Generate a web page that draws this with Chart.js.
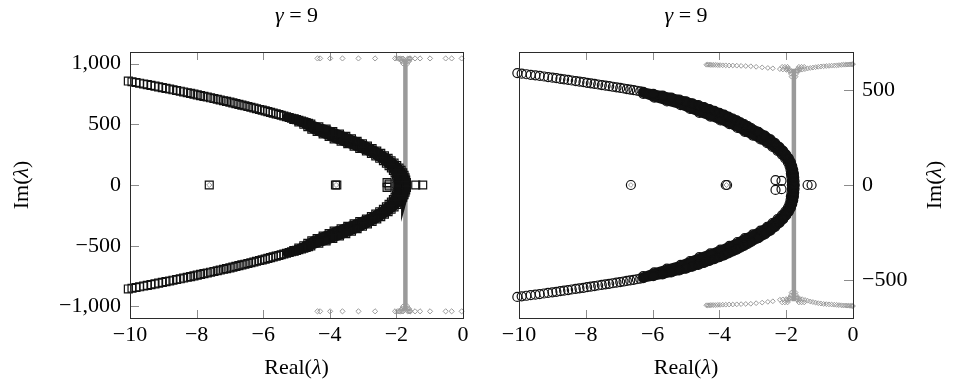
<!DOCTYPE html>
<html>
<head>
<meta charset="utf-8">
<script src="https://cdn.jsdelivr.net/npm/chart.js@4.4.1/dist/chart.umd.min.js"></script>
<style>
  body { margin: 0; background: #fff; }
  #wrap { position: relative; width: 954px; height: 388px; }
  canvas { position: absolute; top: 0; }
</style>
</head>
<body>
<div id="wrap">
  <canvas id="left" width="477" height="388" style="left:0"></canvas>
  <canvas id="right" width="477" height="388" style="left:477px"></canvas>
</div>
<script>
// tick values
var xTicks = [-10, -8, -6, -4, -2, 0];
var leftYTicks = [-1000, -500, 0, 500, 1000];
var rightYTicks = [-500, 0, 500];

// left panel: main branch (squares)
var leftUpperIm = [0,20,40,60,80,100,120,140,160,180,200,220,240,260,280,300,320,340,360,380,400,420,440,460,480,
  502,508,514,520,526,532,538,544,550,556,562,568,574,580,586,592,598,604,610,616,622,628,634,640,646,652,658,664,670,676,
  682,688,694,700,706,712,718,724,730,736,742,748,754,760,766,772,778,784,790,796,802,808,814,820,826,832,838,844,850,856];
var leftLowerIm = [0,-20,-40,-60,-80,-100,-120,-140,-160,-180,-200,-220,-240,-260,-280,-300,-320,-340,-360,-380,-400,-420,-440,-460,-480,
  -502,-508,-514,-520,-526,-532,-538,-544,-550,-556,-562,-568,-574,-580,-586,-592,-598,-604,-610,-616,-622,-628,-634,-640,-646,-652,-658,-664,-670,-676,
  -682,-688,-694,-700,-706,-712,-718,-724,-730,-736,-742,-748,-754,-760,-766,-772,-778,-784,-790,-796,-802,-808,-814,-820,-826,-832,-838,-844,-850,-856];
var leftRe = [-1.70,-1.70,-1.72,-1.74,-1.77,-1.81,-1.86,-1.92,-1.99,-2.07,-2.16,-2.25,-2.36,-2.47,-2.59,-2.73,-2.87,-3.02,-3.18,-3.35,-3.52,-3.71,-3.91,-4.11,-4.33,
  -4.57,-4.64,-4.71,-4.78,-4.85,-4.93,-5.00,-5.07,-5.15,-5.22,-5.30,-5.38,-5.46,-5.53,-5.61,-5.70,-5.78,-5.86,-5.94,-6.03,-6.11,-6.20,-6.28,-6.37,-6.46,-6.55,-6.64,-6.73,-6.82,-6.91,
  -7.00,-7.10,-7.19,-7.29,-7.38,-7.48,-7.58,-7.68,-7.78,-7.88,-7.98,-8.08,-8.18,-8.28,-8.39,-8.49,-8.60,-8.71,-8.81,-8.92,-9.03,-9.14,-9.25,-9.37,-9.48,-9.59,-9.71,-9.82,-9.94,-10.05];
// left panel: inner branch, merging into the main one near Re = -5
var leftInnerUpperIm = [0,20,40,60,80,100,120,140,160,180,200,220,240,260,280,300,320,340,360,380,400,420,440,460,480,500,520,540];
var leftInnerLowerIm = [0,-20,-40,-60,-80,-100,-120,-140,-160,-180,-200,-220,-240,-260,-280,-300,-320,-340,-360,-380,-400,-420,-440,-460,-480,-500,-520,-540];
var leftInnerRe = [-1.92,-1.92,-1.94,-1.96,-2.00,-2.04,-2.09,-2.15,-2.22,-2.30,-2.39,-2.50,-2.62,-2.75,-2.90,-3.10,-3.27,-3.46,-3.66,-3.87,-4.02,-4.20,-4.38,-4.54,-4.66,-4.78,-4.93,-5.08];
// left panel: isolated eigenvalues near the real axis
var leftIsoRe = [-7.62, -3.83, -3.79, -2.28, -2.28, -2.22, -2.22, -1.42, -1.21];
var leftIsoIm = [0, 0, 0, 20, -20, 8, -8, 0, 0];

// left panel: gray set
var leftBandRe = [-1.73, -1.73];
var leftBandIm = [-1035, 1035];
var leftRowRe = [-4.37,-4.29,-3.99,-3.62,-3.14,-2.64,-2.04,-1.97,-1.59,-1.44,-1.29,-0.99,-0.52,-0.34,-0.04];
var leftRowTopIm = [1042,1042,1042,1042,1042,1042,1042,1042,1042,1042,1042,1042,1042,1042,1042];
var leftRowBotIm = [-1040,-1040,-1040,-1040,-1040,-1040,-1040,-1040,-1040,-1040,-1040,-1040,-1040,-1040,-1040];
var leftFlareRe = [-1.92,-1.88,-1.84,-1.80,-1.66,-1.62,-1.58,-1.84,-1.80,-1.66,-1.62,-1.80,-1.67];
var leftFlareTopIm = [1040,1040,1040,1040,1040,1040,1040,1020,1020,1020,1020,1000,1000];
var leftFlareBotIm = [-1040,-1040,-1040,-1040,-1040,-1040,-1040,-1020,-1020,-1020,-1020,-1000,-1000];
var leftGrayIsoRe = [-7.62, -3.81];
var leftGrayIsoIm = [0, 0];

// right panel: main branch (circles)
var rightUpperIm = [0,20,40,60,80,100,120,140,160,180,200,220,240,260,280,300,
  310,320,330,340,350,360,370,380,390,400,410,420,430,440,450,460,470,480,490,
  493,496,499,502,505,508,511,514,517,520,523,526,529,532,535,538,541,544,547,550,553,556,559,562,565,568,571,574,577,580,583,586,589];
var rightLowerIm = [0,-20,-40,-60,-80,-100,-120,-140,-160,-180,-200,-220,-240,-260,-280,-300,
  -310,-320,-330,-340,-350,-360,-370,-380,-390,-400,-410,-420,-430,-440,-450,-460,-470,-480,-490,
  -493,-496,-499,-502,-505,-508,-511,-514,-517,-520,-523,-526,-529,-532,-535,-538,-541,-544,-547,-550,-553,-556,-559,-562,-565,-568,-571,-574,-577,-580,-583,-586,-589];
var rightRe = [-1.75,-1.75,-1.76,-1.77,-1.79,-1.82,-1.86,-1.92,-2.00,-2.09,-2.20,-2.33,-2.47,-2.64,-2.83,-3.05,
  -3.15,-3.26,-3.37,-3.48,-3.60,-3.73,-3.86,-4.00,-4.15,-4.30,-4.46,-4.63,-4.81,-5.00,-5.20,-5.44,-5.70,-5.98,-6.28,
  -6.37,-6.47,-6.57,-6.67,-6.77,-6.87,-6.97,-7.08,-7.19,-7.30,-7.41,-7.52,-7.63,-7.74,-7.85,-7.96,-8.07,-8.19,-8.30,-8.42,
  -8.53,-8.65,-8.76,-8.88,-9.00,-9.13,-9.25,-9.38,-9.51,-9.65,-9.78,-9.92,-10.05];
// right panel: inner branch, merging into the main one near Re = -6.3
var rightInnerUpperIm = [0,20,40,60,80,100,120,140,160,180,200,220,240,260,280,300,320,340,360,380,400,420,440,460,480];
var rightInnerLowerIm = [0,-20,-40,-60,-80,-100,-120,-140,-160,-180,-200,-220,-240,-260,-280,-300,-320,-340,-360,-380,-400,-420,-440,-460,-480];
var rightInnerRe = [-1.83,-1.83,-1.84,-1.86,-1.87,-1.90,-1.95,-2.03,-2.13,-2.26,-2.41,-2.57,-2.77,-3.00,-3.24,-3.46,-3.70,-3.97,-4.27,-4.60,-4.88,-5.16,-5.57,-5.95,-6.28];
var rightIsoRe = [-6.65, -3.81, -3.77, -2.32, -2.32, -2.14, -2.14, -1.36, -1.24];
var rightIsoIm = [0, 0, 0, 26, -26, 22, -22, 0, 0];

// right panel: gray set
var rightBandRe = [-1.77, -1.77];
var rightBandIm = [-612, 612];
var rightRowLeftRe = [-4.39,-4.35,-4.31,-4.27,-4.22,-4.17,-4.11,-4.05,-3.98,-3.90,-3.81,-3.71,-3.60,-3.48,-3.35,-3.21,-3.06,-2.90,-2.72,-2.55,-2.40];
var rightRowLeftTopIm = [633,633,633,632,632,632,632,631,631,630,630,629,629,628,627,626,625,622,619,616,614];
var rightRowLeftBotIm = [-633,-633,-633,-632,-632,-632,-632,-631,-631,-630,-630,-629,-629,-628,-627,-626,-625,-622,-619,-615,-612];
var rightRowRightRe = [-2.19,-2.10,-2.00,-1.92,-1.60,-1.52,-1.44,-1.36,-1.28,-1.20,-1.12,-1.04,-0.96,-0.88,-0.80,-0.72,-0.64,-0.56,
  -0.49,-0.42,-0.35,-0.29,-0.23,-0.18,-0.13,-0.09,-0.05,-0.02,0];
var rightRowRightTopIm = [610,608,606,604,604,607,610,613,616,618,620,622,624,625,626,627,628,629,630,631,632,633,633,634,634,635,635,636,636];
var rightRowRightBotIm = [-604,-602,-600,-598,-598,-601,-605,-609,-613,-616,-619,-622,-624,-626,-627,-628,-629,-630,-631,-632,-633,-634,-634,-635,-635,-636,-636,-637,-637];
var rightFlareRe = [-2.12,-2.04,-1.96,-1.62,-1.54,-1.46,-1.98,-1.92,-1.66,-1.60,-1.90,-1.86,-1.70,-1.66,-1.86,-1.70,-1.84,-1.72];
var rightFlareTopIm = [622,622,622,622,622,622,612,612,612,612,600,600,600,600,585,585,570,570];
var rightFlareBotIm = [-618,-618,-618,-618,-618,-618,-606,-606,-606,-606,-594,-594,-594,-594,-580,-580,-566,-566];
var rightGrayIsoRe = [-6.65, -3.79];
var rightGrayIsoIm = [0, 0];

var FONT = '"Liberation Serif", "DejaVu Serif", serif';
var FS = 22;
var BLACK = '#111';
var GRAY = '#9a9a9a';
var NONE = 'rgba(0,0,0,0)';

function pts(xs, ys) {
  return xs.map(function (x, i) { return { x: x, y: ys[i] }; });
}

// eigenvalue branch: hollow marks, plus a thick line where the marks pile up (Re >= cut)
function branch(data, style, r, cut, lw) {
  return { data: data, showLine: true, clip: false,
    borderWidth: lw, borderColor: BLACK, borderCapStyle: 'round',
    segment: { borderColor: function (c) { return c.p0.parsed.x >= cut && c.p1.parsed.x >= cut ? BLACK : NONE; } },
    pointStyle: style, pointRadius: r, pointBorderWidth: 1.2,
    pointBorderColor: BLACK, pointBackgroundColor: NONE };
}

function marks(data, style, r) {
  return { data: data, pointStyle: style, pointRadius: r, borderColor: BLACK,
    backgroundColor: NONE, borderWidth: 1.2, showLine: false, clip: false };
}

function diamonds(data, r) {
  return { data: data, pointStyle: 'rectRot', pointRadius: r, borderColor: GRAY,
    backgroundColor: NONE, borderWidth: 1, showLine: false, clip: false };
}

function band(data) {
  return { data: data, showLine: true, borderColor: GRAY, borderWidth: 4.5,
    pointRadius: 0, clip: false };
}

function fmt(v) {
  var s = Math.abs(v).toLocaleString('en-US');
  return v < 0 ? '\u2212' + s : s;
}

// mixed upright / italic text, centered on (x, y)
function label(ctx, parts, x, y, rot) {
  ctx.save();
  ctx.translate(x, y);
  ctx.rotate(rot);
  ctx.textBaseline = 'middle';
  ctx.textAlign = 'left';
  ctx.fillStyle = '#000';
  var total = 0;
  parts.forEach(function (p) {
    ctx.font = (p[1] ? 'italic ' : '') + FS + 'px ' + FONT;
    total += ctx.measureText(p[0]).width;
  });
  var cx = -total / 2;
  parts.forEach(function (p) {
    ctx.font = (p[1] ? 'italic ' : '') + FS + 'px ' + FONT;
    ctx.fillText(p[0], cx, 0);
    cx += ctx.measureText(p[0]).width;
  });
  ctx.restore();
}

var decor = {
  id: 'decor',
  afterDraw: function (chart, args, o) {
    var ctx = chart.ctx, a = chart.chartArea;
    var xs = chart.scales.x, ys = chart.scales.y;
    ctx.save();
    ctx.lineWidth = 1;
    ctx.strokeStyle = '#8c8c8c';
    ctx.beginPath();
    xTicks.forEach(function (v) {
      var p = Math.round(xs.getPixelForValue(v)) + 0.5;
      ctx.moveTo(p, a.bottom); ctx.lineTo(p, a.bottom - 8);
      ctx.moveTo(p, a.top); ctx.lineTo(p, a.top + 8);
    });
    o.yTicks.forEach(function (v) {
      var p = Math.round(ys.getPixelForValue(v)) + 0.5;
      if (o.side === 'left') { ctx.moveTo(a.left, p); ctx.lineTo(a.left + 9, p); }
      else { ctx.moveTo(a.right, p); ctx.lineTo(a.right - 9, p); }
    });
    ctx.stroke();
    ctx.strokeStyle = '#2b2b2b';
    ctx.strokeRect(Math.round(a.left) + 0.5, Math.round(a.top) + 0.5,
      Math.round(a.right - a.left), Math.round(a.bottom - a.top));
    ctx.restore();
    var mid = (a.left + a.right) / 2;
    label(ctx, [['\u03b3', true], [' = 9', false]], mid, 16, 0);
    label(ctx, [['Real(', false], ['\u03bb', true], [')', false]], mid, 368, 0);
    label(ctx, [['Im(', false], ['\u03bb', true], [')', false]], o.yTitleX, (a.top + a.bottom) / 2, -Math.PI / 2);
  }
};

function makeChart(id, datasets, s) {
  new Chart(document.getElementById(id), {
    type: 'scatter',
    data: { datasets: datasets },
    plugins: [decor],
    options: {
      responsive: false,
      animation: false,
      events: [],
      layout: { padding: s.padding },
      plugins: {
        legend: { display: false },
        tooltip: { enabled: false },
        decor: { yTicks: s.yTicks, side: s.side, yTitleX: s.yTitleX }
      },
      scales: {
        x: {
          type: 'linear', position: 'bottom', min: -10, max: 0,
          grid: { display: false, drawTicks: false },
          border: { display: false },
          ticks: { font: { family: FONT, size: FS }, color: '#000', padding: 4,
            maxRotation: 0, autoSkip: false, callback: fmt },
          afterBuildTicks: function (sc) { sc.ticks = xTicks.map(function (v) { return { value: v }; }); },
          afterFit: function (sc) { sc.height = 70; }
        },
        y: {
          type: 'linear', position: s.side, min: s.yMin, max: s.yMax,
          grid: { display: false, drawTicks: false },
          border: { display: false },
          ticks: { font: { family: FONT, size: FS }, color: '#000', padding: 9,
            autoSkip: false, callback: fmt },
          afterBuildTicks: function (sc) { sc.ticks = s.yTicks.map(function (v) { return { value: v }; }); },
          afterFit: function (sc) { sc.width = s.yWidth; }
        }
      }
    }
  });
}

makeChart('left', [
  branch(pts(leftRe, leftUpperIm), 'rect', 5.6, -5.3, 8),
  branch(pts(leftRe, leftLowerIm), 'rect', 5.6, -5.3, 8),
  branch(pts(leftInnerRe, leftInnerUpperIm), 'rect', 5.6, -6, 8),
  branch(pts(leftInnerRe, leftInnerLowerIm), 'rect', 5.6, -6, 8),
  marks(pts(leftIsoRe, leftIsoIm), 'rect', 5.6),
  diamonds(pts(leftGrayIsoRe, leftGrayIsoIm), 2.6),
  diamonds(pts(leftRowRe, leftRowTopIm), 2.6),
  diamonds(pts(leftRowRe, leftRowBotIm), 2.6),
  diamonds(pts(leftFlareRe, leftFlareTopIm), 2.6),
  diamonds(pts(leftFlareRe, leftFlareBotIm), 2.6),
  band(pts(leftBandRe, leftBandIm))
], { padding: { left: 0, right: 14, top: 52, bottom: 0 }, side: 'left', yMin: -1095, yMax: 1095,
     yTicks: leftYTicks, yWidth: 130, yTitleX: 22 });

makeChart('right', [
  branch(pts(rightRe, rightUpperIm), 'circle', 4.5, -6.3, 9),
  branch(pts(rightRe, rightLowerIm), 'circle', 4.5, -6.3, 9),
  branch(pts(rightInnerRe, rightInnerUpperIm), 'circle', 4.5, -7, 8),
  branch(pts(rightInnerRe, rightInnerLowerIm), 'circle', 4.5, -7, 8),
  marks(pts(rightIsoRe, rightIsoIm), 'circle', 4.5),
  diamonds(pts(rightGrayIsoRe, rightGrayIsoIm), 2.4),
  diamonds(pts(rightRowLeftRe, rightRowLeftTopIm), 2.4),
  diamonds(pts(rightRowLeftRe, rightRowLeftBotIm), 2.4),
  diamonds(pts(rightRowRightRe, rightRowRightTopIm), 2.4),
  diamonds(pts(rightRowRightRe, rightRowRightBotIm), 2.4),
  diamonds(pts(rightFlareRe, rightFlareTopIm), 2.4),
  diamonds(pts(rightFlareRe, rightFlareBotIm), 2.4),
  band(pts(rightBandRe, rightBandIm))
], { padding: { left: 42, right: 0, top: 52, bottom: 0 }, side: 'right', yMin: -700, yMax: 700,
     yTicks: rightYTicks, yWidth: 101, yTitleX: 458 });
</script>
</body>
</html>
